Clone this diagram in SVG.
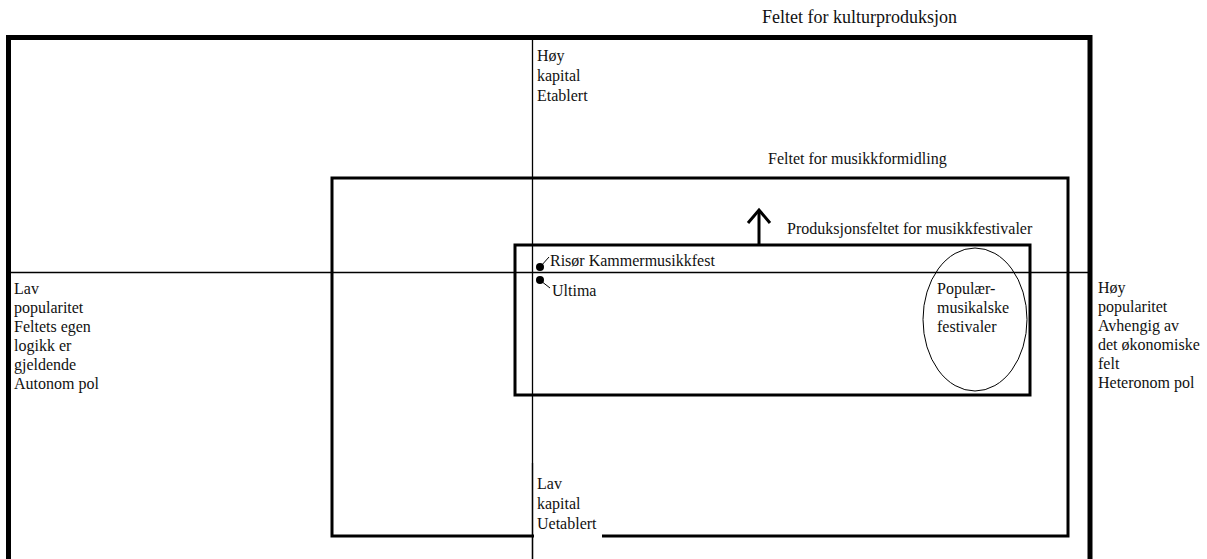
<svg xmlns="http://www.w3.org/2000/svg" width="1207" height="559" viewBox="0 0 1207 559">
<style>
text{font-family:"Liberation Serif","Times New Roman",serif;font-size:16px;fill:#111}
.frame{fill:none;stroke:#000}
.axis{stroke:#000;stroke-width:1.3}
</style>
<rect width="1207" height="559" fill="#fff"/>
<g id="axes">
<line class="axis" x1="10" y1="272.5" x2="1090" y2="272.5"/>
<line class="axis" x1="532.5" y1="37" x2="532.5" y2="559"/>
</g>
<g id="felt-kulturproduksjon">
<rect class="frame" x="8.5" y="37.5" width="1081.5" height="540" stroke-width="5"/>
<text x="762" y="23" font-family="Liberation Serif, serif" style="font-size:18px">Feltet for kulturproduksjon</text>
</g>
<g id="felt-musikkformidling">
<rect class="frame" x="332" y="178" width="736" height="358" stroke-width="3"/>
<text x="768" y="164" font-family="Liberation Serif, serif">Feltet for musikkformidling</text>
</g>
<g id="produksjonsfelt">
<rect class="frame" x="515" y="245" width="515" height="150" stroke-width="3"/>
<text x="787" y="234" font-family="Liberation Serif, serif">Produksjonsfeltet for musikkfestivaler</text>
</g>
<g id="connectors">
<line x1="759" y1="244" x2="759" y2="210" stroke="#000" stroke-width="3"/>
<polyline points="748,223 759,210 770,223" fill="none" stroke="#000" stroke-width="3"/>
<line x1="541" y1="266" x2="549" y2="257" stroke="#000" stroke-width="1"/>
<line x1="541" y1="281" x2="550" y2="288" stroke="#000" stroke-width="1"/>
</g>
<g id="risor">
<circle cx="540" cy="267" r="4" fill="#000"/>
<text x="550" y="266" font-family="Liberation Serif, serif">Risør Kammermusikkfest</text>
</g>
<g id="ultima">
<circle cx="540" cy="280" r="4" fill="#000"/>
<text x="552" y="296" font-family="Liberation Serif, serif">Ultima</text>
</g>
<g id="popular">
<ellipse cx="975" cy="319.5" rx="52" ry="71.5" fill="none" stroke="#000" stroke-width="1"/>
<text font-family="Liberation Serif, serif"><tspan x="937" y="294">Populær-</tspan><tspan x="937" y="313">musikalske</tspan><tspan x="937" y="332">festivaler</tspan></text>
</g>
<g id="hoy-kapital">
<text font-family="Liberation Serif, serif"><tspan x="537" y="61">Høy</tspan><tspan x="537" y="81">kapital</tspan><tspan x="537" y="101">Etablert</tspan></text>
</g>
<g id="lav-kapital">
<rect x="534" y="463" width="68" height="96" fill="#fff"/>
<line class="axis" x1="532.5" y1="463" x2="532.5" y2="559"/>
<text font-family="Liberation Serif, serif"><tspan x="537" y="489">Lav</tspan><tspan x="537" y="509">kapital</tspan><tspan x="537" y="529">Uetablert</tspan></text>
</g>
<g id="lav-popularitet">
<text font-family="Liberation Serif, serif"><tspan x="14" y="294">Lav</tspan><tspan x="14" y="313">popularitet</tspan><tspan x="14" y="332">Feltets egen</tspan><tspan x="14" y="351">logikk er</tspan><tspan x="14" y="370">gjeldende</tspan><tspan x="14" y="389">Autonom pol</tspan></text>
</g>
<g id="hoy-popularitet">
<text font-family="Liberation Serif, serif"><tspan x="1098" y="293">Høy</tspan><tspan x="1098" y="312">popularitet</tspan><tspan x="1098" y="331">Avhengig av</tspan><tspan x="1098" y="350">det økonomiske</tspan><tspan x="1098" y="369">felt</tspan><tspan x="1098" y="388">Heteronom pol</tspan></text>
</g>
</svg>
